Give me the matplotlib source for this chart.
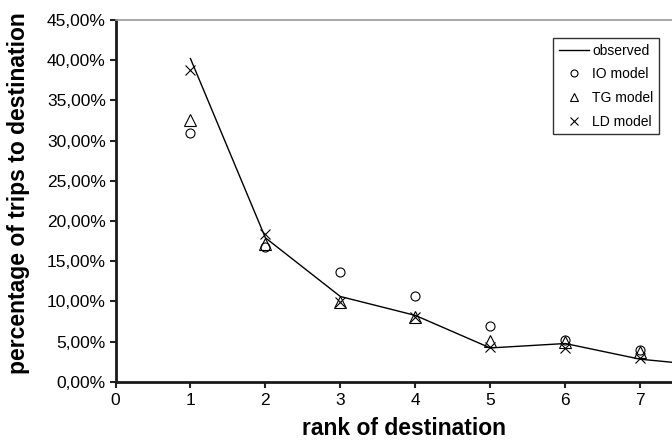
import matplotlib
matplotlib.use("Agg")
import matplotlib.pyplot as plt
from matplotlib.lines import Line2D
from matplotlib.ticker import FuncFormatter

plt.rcParams['font.family'] = ['Liberation Sans', 'DejaVu Sans']

# data (percent)
rank_obs = [1, 2, 3, 4, 5, 6, 7, 8]
observed = [40.2, 17.9, 10.6, 8.25, 4.2, 4.75, 2.8, 1.9]
rank = [1, 2, 3, 4, 5, 6, 7]
io_model = [30.9, 16.8, 13.7, 10.6, 6.9, 5.25, 3.9]
tg_model = [32.5, 17.1, 9.9, 8.0, 5.1, 4.95, 3.7]
ld_model = [38.8, 18.4, 9.9, 8.0, 4.3, 4.25, 3.0]
yticks = [0, 5, 10, 15, 20, 25, 30, 35, 40, 45]
xticks = [0, 1, 2, 3, 4, 5, 6, 7]

fig = plt.figure(figsize=(6.72, 4.42), dpi=100)
W, H = 672, 442
ax_left, ax_right = 115.5, 672
ax_top, ax_bot = 20, 381.7
ax = fig.add_axes([ax_left / W, 1 - ax_bot / H, (ax_right - ax_left) / W, (ax_bot - ax_top) / H])

ax.plot(rank_obs, observed, color='black', lw=1.0, clip_on=True)
ms = 6.5
ax.plot(rank, io_model, ls='none', marker='o', ms=ms, mfc='none', mec='black', mew=0.8)
ax.plot(rank, tg_model, ls='none', marker='^', ms=ms + 1.5, mfc='none', mec='black', mew=0.8)
ax.plot(rank, ld_model, ls='none', marker='x', ms=ms + 0.5, mec='black', mew=0.8)

ax.set_xlim(0, (ax_right - ax_left) / 74.95)
ax.set_ylim(0, 45)
ax.set_xticks(xticks)
ax.set_yticks(yticks)
ax.yaxis.set_major_formatter(FuncFormatter(lambda v, p: f"{v:.2f}".replace('.', ',') + '%'))
ax.tick_params(axis='both', labelsize=12.5, direction='out', length=4, width=1.5, color='#222222')
ax.tick_params(axis='x', pad=4)
ax.tick_params(axis='y', pad=3)

for s in ['left', 'bottom']:
    ax.spines[s].set_linewidth(2)
    ax.spines[s].set_color('#1a1a1a')
ax.spines['top'].set_color('#999999')
ax.spines['top'].set_linewidth(1.2)
ax.spines['right'].set_visible(False)

ax.set_xlabel('rank of destination', fontsize=16.5, fontweight='bold')
ax.xaxis.set_label_coords((403.5 - ax_left) / (ax_right - ax_left), -(417 - ax_bot) / (ax_bot - ax_top))
ax.set_ylabel('percentage of trips to destination', fontsize=16.5, fontweight='bold')
ax.yaxis.set_label_coords(-(ax_left - 30) / (ax_right - ax_left), (ax_bot - 193) / (ax_bot - ax_top))

handles = [
    Line2D([], [], color='black', lw=1.0),
    Line2D([], [], ls='none', marker='o', ms=5, mfc='none', mec='black', mew=0.8),
    Line2D([], [], ls='none', marker='^', ms=6, mfc='none', mec='black', mew=0.8),
    Line2D([], [], ls='none', marker='x', ms=5.5, mec='black', mew=0.8),
]
labels = ['observed', 'IO model', 'TG model', 'LD model']
leg = fig.legend(handles, labels, loc='upper left', bbox_to_anchor=(553 / W, 1 - 38 / H),
                 fontsize=10, frameon=True, fancybox=False, shadow=False, edgecolor='black',
                 handlelength=2.2, handletextpad=0.2, labelspacing=0.7, borderpad=0.4,
                 borderaxespad=0)
leg.get_frame().set_linewidth(1.0)

fig.savefig('out.png', dpi=100)
